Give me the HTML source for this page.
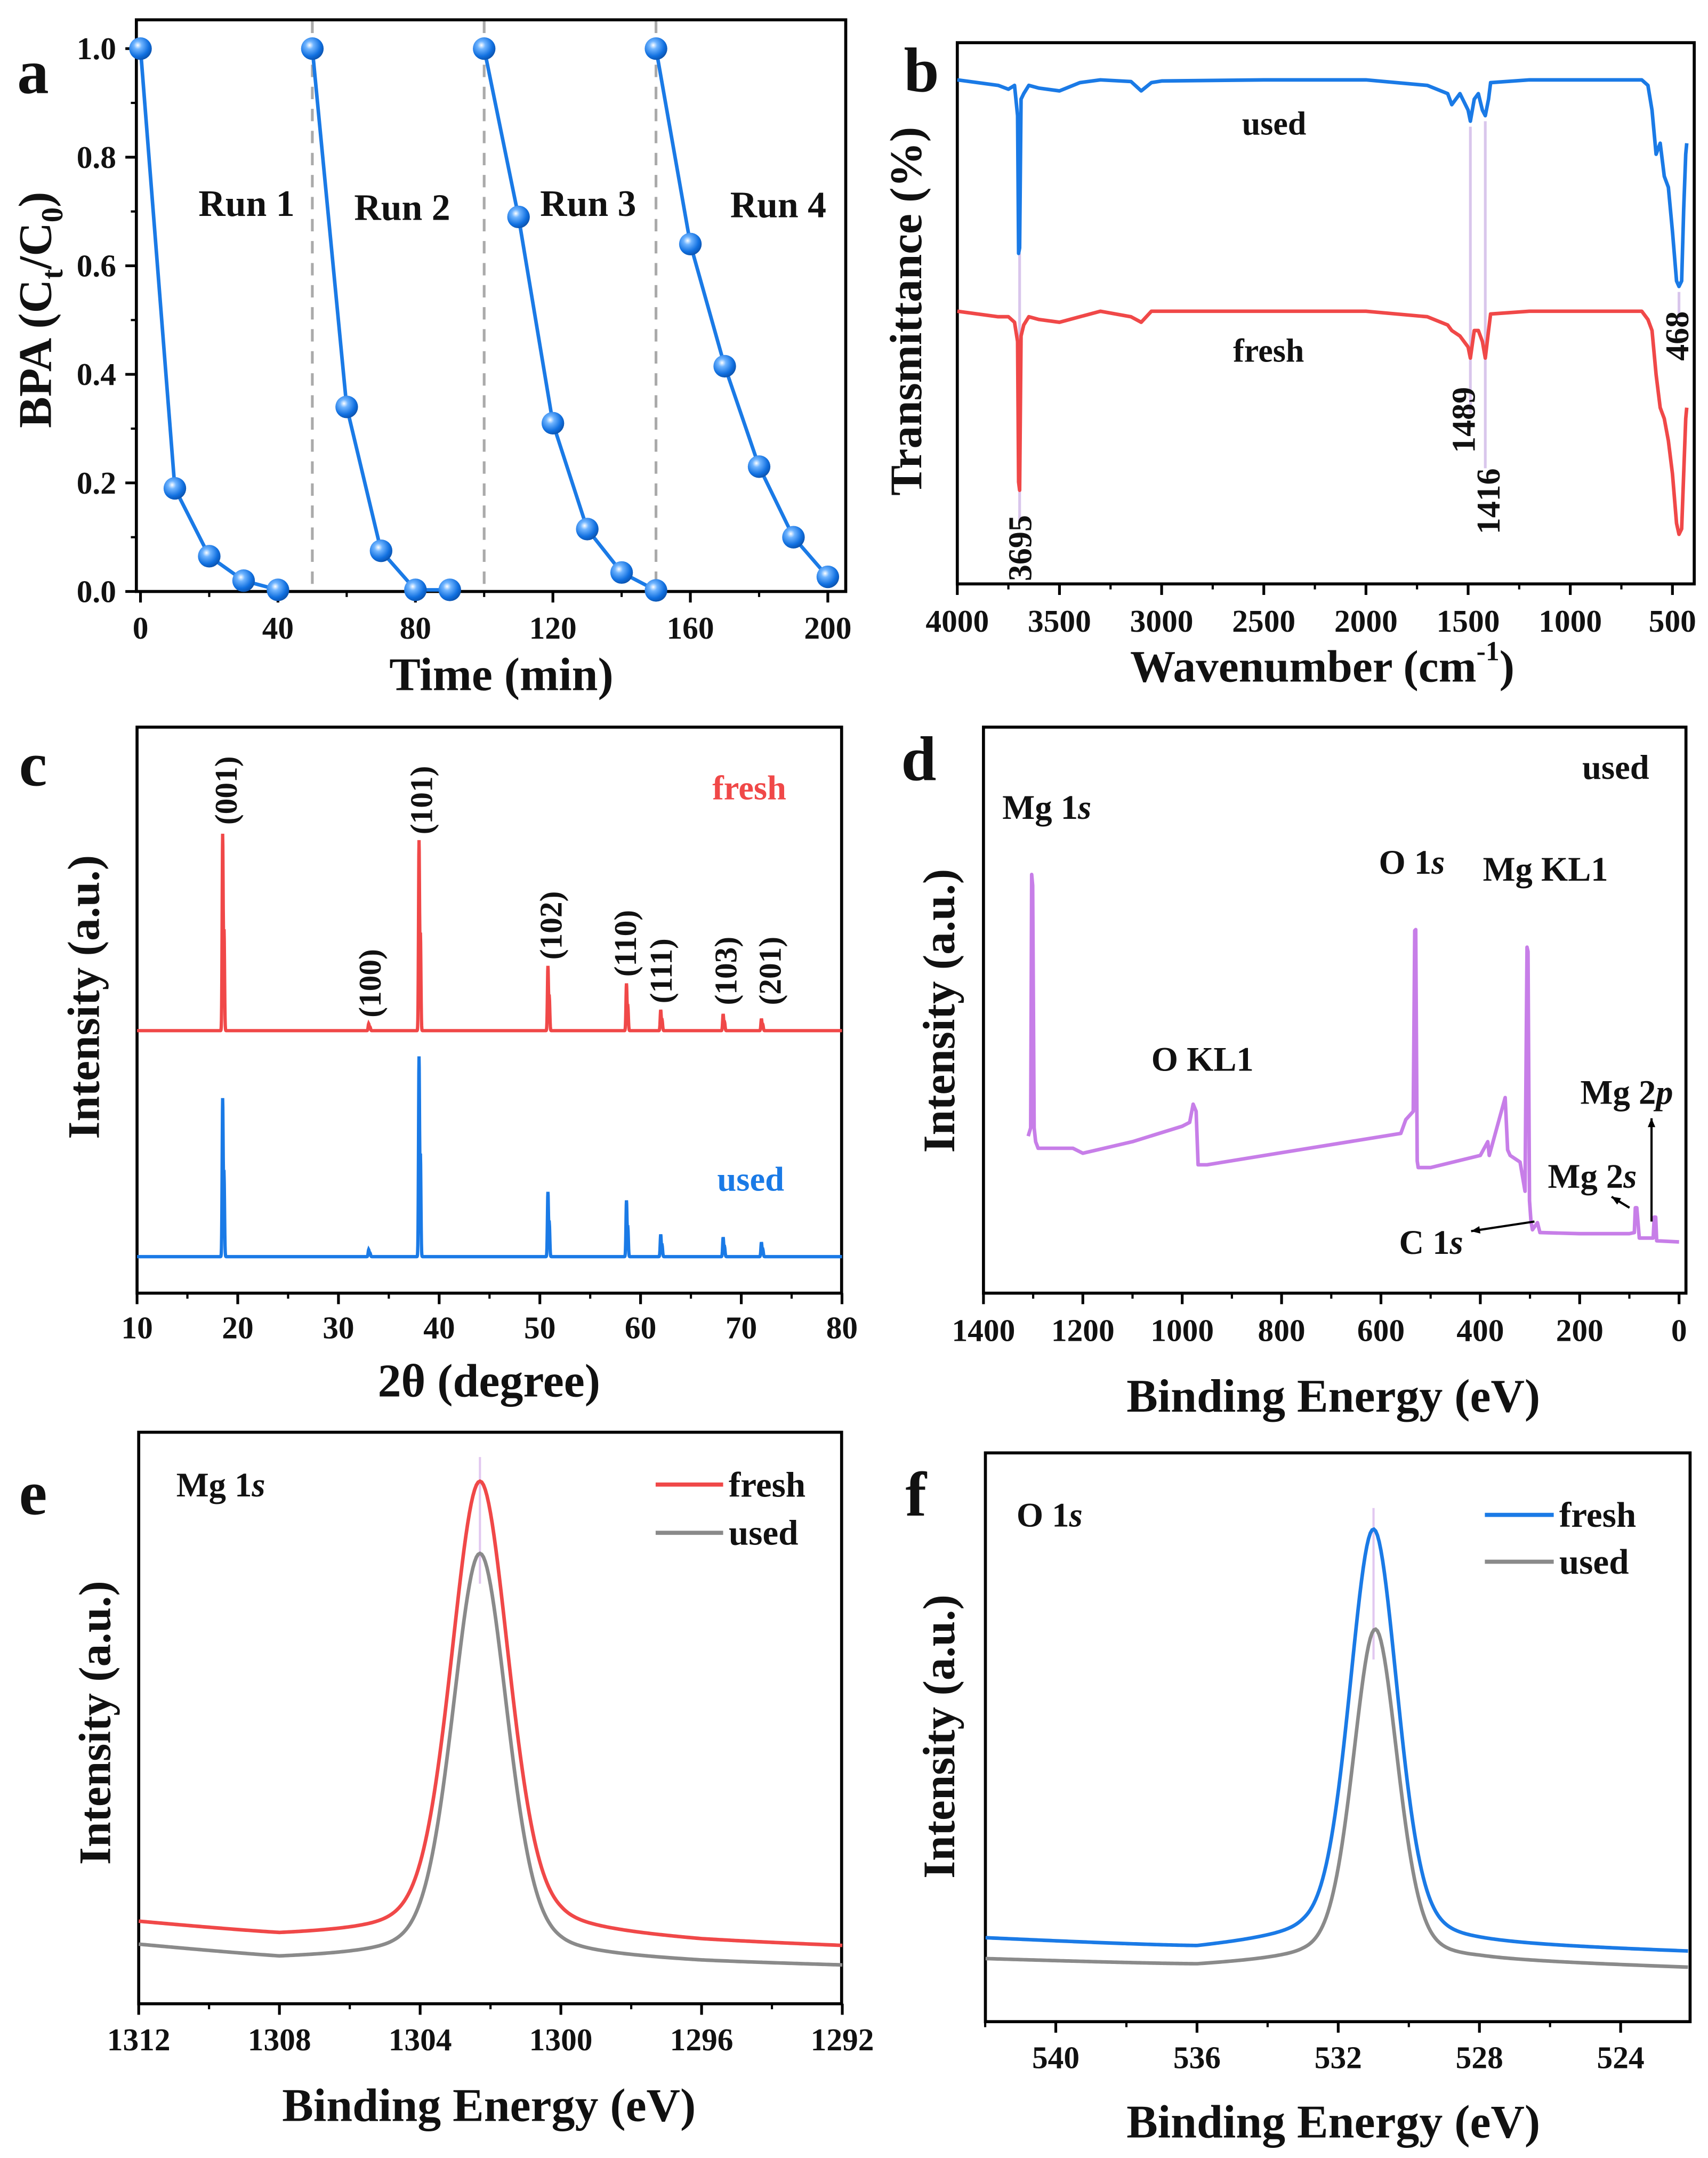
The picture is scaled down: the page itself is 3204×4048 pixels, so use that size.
<!DOCTYPE html>
<html><head><meta charset="utf-8"><style>
html,body{margin:0;padding:0;background:#fff}
svg{display:block}
text{font-family:"Liberation Serif",serif;font-weight:bold;fill:#111}
</style></head><body>
<svg id="fig" xmlns="http://www.w3.org/2000/svg" width="3204" height="4048" viewBox="0 0 1240 1567" preserveAspectRatio="none">
<defs>
<radialGradient id="ball" cx="0.38" cy="0.35" r="0.7">
<stop offset="0" stop-color="#ffffff"/><stop offset="0.25" stop-color="#6fb4ff"/><stop offset="0.7" stop-color="#1170e0"/><stop offset="1" stop-color="#0a4fa8"/>
</radialGradient>
</defs>
</svg>
<script>
// ---------- Panel a data ----------
const runTimes = [[0,10,20,30,40],[50,60,70,80,90],[100,110,120,130,140,150],[150,160,170,180,190,200]];
const runValues = [[1,0.19,0.065,0.02,0.003],[1,0.34,0.075,0.003,0.003],[1,0.69,0.31,0.115,0.035,0.002],[1,0.64,0.415,0.23,0.1,0.027]];
const runLabels = ['Run 1','Run 2','Run 3','Run 4'];
const runSeparators = [50,100,150];
const aXTicks = [0,40,80,120,160,200];
const aYTicks = [0,0.2,0.4,0.6,0.8,1.0];
// ---------- Panel b data (FTIR) ----------
const ftirWave = [4000,3800,3750,3720,3705,3700,3695,3688,3675,3650,3600,3500,3400,3300,3150,3100,3050,3000,2500,2000,1700,1600,1580,1540,1500,1489,1470,1450,1430,1416,1400,1390,1200,800,650,620,600,580,560,540,520,500,480,468,455,445,435,430];
const ftirUsed = [91.5,90.5,89.8,90.5,85,60,61,88,89,90.5,90,89.5,91,91.5,91.2,89.5,91,91.3,91.5,91.5,90.5,89,87,89,86,84,88,89,86,85,88,91,91.5,91.5,91.5,90.5,86,78,80,74,72,64,55,54,55,68,78,80];
const ftirFresh = [49.5,48.5,48.5,47.5,44,18.5,17,45,47,48.5,48,47.5,48.5,49.5,48.5,47.5,49.5,49.5,49.5,49.5,48.5,47,46,45,43,41,46,46,44,41,46,49,49.5,49.5,49.5,48,46,38,32,30,26,20,11,9,10,20,30,32];
const ftirMarks = [3695,1489,1416,468];
const bXTicks = [4000,3500,3000,2500,2000,1500,1000,500];
// ---------- Panel c data (XRD) ----------
const xrdPos = [18.5,33,38,50.8,58.6,62,68.2,72];
const xrdFresh = [1416,50,1370,466,340,150,120,86];
const xrdUsed = [1140,50,1440,466,405,160,140,104];
const xrdLabels = ['(001)','(100)','(101)','(102)','(110)','(111)','(103)','(201)'];
const cXTicks = [10,20,30,40,50,60,70,80];
// ---------- Panel d data (XPS survey) ----------
const surveyE = [1310,1305,1303,1301,1298,1295,1290,1220,1200,1100,1000,985,978,972,968,950,800,560,550,535,532,530,527,525,500,400,385,382,350,345,340,320,310,306,304,301,298,295,285,280,200,100,90,88,85,80,52,50,47,45,0];
const surveyI = [28.5,30,76,74,30,27.5,26.3,26.3,25.4,27.5,30.3,31,34.3,33,23.3,23.3,25.5,29,31.5,33,65.8,66,24,22.8,22.8,25,27.5,25,35.5,26,25,23.8,18.5,62.8,62,16.8,13,11.5,12.8,11,10.8,10.8,11,15.5,15.5,10,10,13.8,13.8,9.5,9.3];
const bDTicks = [1400,1200,1000,800,600,400,200,0];
// ---------- Panel e data (Mg 1s) ----------
const eBgE = [1312,1308,1304,1300,1296,1292];
const eFreshBg = [59,49,50,51,45,41.5];
const eUsedBg = [42.5,32.5,34,34,30,27.5];
const ePeakCenter = [1302.3,1302.3];
const ePeakHeight = [329,293];
const ePeakFwhm = [1.95,1.85];
const eXTicks = [1312,1308,1304,1300,1296,1292];
// ---------- Panel f data (O 1s) ----------
const fBgE = [542,536,533,528,522];
const fFreshBg = [60.5,53,59,55.5,50.5];
const fUsedBg = [45.5,40.5,44,44,39];
const fPeakCenter = [531.0,530.95];
const fPeakHeight = [300,241];
const fPeakFwhm = [1.62,1.5];
const fXTicks = [540,536,532,528,524];

const NS='http://www.w3.org/2000/svg';
const svg=document.getElementById('fig');
function mk(tag,attrs,parent){const e=document.createElementNS(NS,tag);for(const k in attrs)e.setAttribute(k,attrs[k]);(parent||svg).appendChild(e);return e;}
function txt(s,x,y,size,attrs,parent){const t=mk('text',Object.assign({x:x,y:y,'font-size':size,'text-anchor':'middle','dominant-baseline':'central'},attrs||{}),parent);t.textContent=s;return t;}
function g(name){const e=mk('g',{});return e;}
function frame(p,x0,y0,x1,y1,name){const r=mk('rect',{x:x0,y:y0,width:x1-x0,height:y1-y0,fill:'none',stroke:'#000','stroke-width':2.2},p);}
function xTicks(p,vals,sx,yb,labelY,minorStep,lo,hi,xmin,xmax){
  vals.forEach(v=>{const l=mk('line',{x1:sx(v),x2:sx(v),y1:yb,y2:yb+8,stroke:'#000','stroke-width':2},p);
    const t=txt(String(v),sx(v),labelY,23,{},p);});
  if(minorStep){for(let v=lo;v<=hi+1e-9;v+=minorStep){const X=sx(v);if(xmin!==undefined&&(X<xmin-0.5||X>xmax+0.5))continue;const l=mk('line',{x1:X,x2:X,y1:yb,y2:yb+4,stroke:'#000','stroke-width':1.6},p);}}
}
function letter(s,x,y){const t=txt(s,x,y,46);}
function vtitle(s,x,y,size,p,name){const t=txt(s,x,y,size||33,{transform:`rotate(-90 ${x} ${y})`},p);return t;}
function pathFrom(xs,ys){return xs.map((x,i)=>(i?'L':'M')+x.toFixed(2)+','+ys[i].toFixed(2)).join('');}
function interp(xs,ys,x){
  for(let i=0;i<xs.length-1;i++){const a=xs[i],b=xs[i+1];if((x<=a&&x>=b)||(x>=a&&x<=b)){const t=(x-a)/(b-a);return ys[i]+t*(ys[i+1]-ys[i]);}}
  return Math.abs(x-xs[0])<Math.abs(x-xs[xs.length-1])?ys[0]:ys[ys.length-1];}
function pv(x,c,h,w){const d=(x-c)/w;return h*(0.3/(1+4*d*d)+0.7*Math.exp(-4*Math.LN2*d*d));}

// ===== Panel a =====
(function(){
const p=g('panel-a-bpa-degradation');
const xA=t=>102+t*2.495, yA=v=>429.5-v*394.2;
runSeparators.forEach(s=>{const l=mk('line',{x1:xA(s),x2:xA(s),y1:15,y2:429,stroke:'#aaa','stroke-width':2,'stroke-dasharray':'9,7'},p);});
frame(p,99,14.4,614,429.5,'plot-frame-a');
xTicks(p,aXTicks,xA,429.5,456,20,0,200);
aYTicks.forEach(v=>{const l=mk('line',{x1:99,x2:91,y1:yA(v),y2:yA(v),stroke:'#000','stroke-width':2},p);
 const t=txt(v.toFixed(1),70,yA(v),23,{},p);});
for(let v=0.1;v<1;v+=0.2){const l=mk('line',{x1:99,x2:95,y1:yA(v),y2:yA(v),stroke:'#000','stroke-width':1.6},p);}
runTimes.forEach((ts,i)=>{
  const ln=mk('path',{d:pathFrom(ts.map(xA),runValues[i].map(yA)),fill:'none',stroke:'#1a7ae6','stroke-width':2.6},p);
  
  ts.forEach((t,j)=>{const c=mk('circle',{cx:xA(t),cy:yA(runValues[i][j]),r:8.2,fill:'url(#ball)'},p);});
});
const runPos=[[179,148],[292,151],[427,148],[565,149]];
runLabels.forEach((s,i)=>{const t=txt(s,runPos[i][0],runPos[i][1],27,{},p);});
const yt=vtitle('',26,225,34,p,'y-axis-title-a');
yt.innerHTML='BPA (C<tspan baseline-shift="sub" font-size="22">t</tspan>/C<tspan baseline-shift="sub" font-size="22">0</tspan>)';
const xt=txt('Time (min)',364,490,34,{},p);
letter('a',24,52);
})();

// ===== Panel b =====
(function(){
const p=g('panel-b-ftir');
const xB=w=>695+(4000-w)*0.14834, yB=T=>424-T*4;
const markBottom=[380,300,340,232];
ftirMarks.forEach((w,i)=>{const l=mk('line',{x1:xB(w),x2:xB(w),y1:yB(interp(ftirWave,ftirUsed,w))+4,y2:markBottom[i],stroke:'#d9c6ec','stroke-width':2},p);});
frame(p,695,31,1230,424,'plot-frame-b');
xTicks(p,bXTicks,xB,424,451,250,500,4000,695,1230);
const u=mk('path',{d:pathFrom(ftirWave.map(xB),ftirUsed.map(yB)),fill:'none',stroke:'#1a7ae6','stroke-width':2.6,'stroke-linejoin':'round'},p);
const f=mk('path',{d:pathFrom(ftirWave.map(xB),ftirFresh.map(yB)),fill:'none',stroke:'#f04848','stroke-width':2.6,'stroke-linejoin':'round'},p);
let t=txt('used',925,90,24,{},p);
t=txt('fresh',921,255,24,{},p);
const lp=[[741,398],[1063,305],[1081,364],[1218,244]];
ftirMarks.forEach((w,i)=>{vtitle(String(w),lp[i][0],lp[i][1],24,p,'peak-label-'+w);});
vtitle('Transmittance (%)',658,226,33,p,'y-axis-title-b');
const xt=txt('',960,484,33,{},p);xt.innerHTML='Wavenumber (cm<tspan baseline-shift="super" font-size="20">-1</tspan>)';
letter('b',669,51);
})();

// ===== Panel c =====
(function(){
const p=g('panel-c-xrd');
const xC=t=>99.5+(t-10)*7.311;
const baseF=748.4, baseU=912.5, sc=0.1;
frame(p,99.5,528,611,939,'plot-frame-c');
xTicks(p,cXTicks,xC,939,964,5,10,80);
function profile(hs,base){const xs=[],ys=[];for(let t=10;t<=80.001;t+=0.02){let v=0;xrdPos.forEach((c,i)=>{const d=t-c;v+=hs[i]*(Math.exp(-d*d/(2*0.05*0.05))+0.5*Math.exp(-(d-0.14)*(d-0.14)/(2*0.05*0.05)));});xs.push(xC(t));ys.push(base-v*sc);}return pathFrom(xs,ys);}
let e=mk('path',{d:profile(xrdFresh,baseF),fill:'none',stroke:'#f04848','stroke-width':2.4},p);
e=mk('path',{d:profile(xrdUsed,baseU),fill:'none',stroke:'#1a7ae6','stroke-width':2.4},p);
const lp=[[164,574],[268.5,714],[306,581],[400,672],[454,685],[480,705],[527,705],[559,705]];
xrdLabels.forEach((s,i)=>vtitle(s,lp[i][0],lp[i][1],23,p,'hkl-label'));
let t=txt('fresh',544,572,25,{style:'fill:#f04848'},p);
t=txt('used',545,856,25,{style:'fill:#1a7ae6'},p);
vtitle('Intensity (a.u.)',61,724,33,p,'y-axis-title-c');
t=txt('2θ (degree)',355,1003,34,{},p);
letter('c',24,555);
})();

// ===== Panel d =====
(function(){
const p=g('panel-d-xps-survey');
const xD=e=>714+(1400-e)*0.3607, yD=I=>939-I*4;
frame(p,714,528,1224,939,'plot-frame-d');
xTicks(p,bDTicks,xD,939,966,100,0,1400);
const s=mk('path',{d:pathFrom(surveyE.map(xD),surveyI.map(yD)),fill:'none',stroke:'#c77ee8','stroke-width':2.6,'stroke-linejoin':'round'},p);
const labs=[['used',1173,557],['O 1s',1025,626],['Mg KL1',1122,631],['O KL1',873,769],['Mg 1s',760,586],['Mg 2p',1181,793],['Mg 2s',1156,854],['C 1s',1039,902]];
labs.forEach(l=>{const t=txt('',l[1],l[2],25,{},p);
 if(/s$|p$/.test(l[0])&&l[0]!=='used'){t.innerHTML=l[0].slice(0,-1)+'<tspan font-style="italic">'+l[0].slice(-1)+'</tspan>';}else t.textContent=l[0];
 });
function arrow(x1,y1,x2,y2,name){const l=mk('line',{x1,y1,x2,y2,stroke:'#000','stroke-width':1.6},p);
 const a=Math.atan2(y2-y1,x2-x1),L=7;const pts=[[x2,y2],[x2-L*Math.cos(a-0.4),y2-L*Math.sin(a-0.4)],[x2-L*Math.cos(a+0.4),y2-L*Math.sin(a+0.4)]];
 const h=mk('polygon',{points:pts.map(q=>q.join(',')).join(' '),fill:'#000'},p);}
arrow(1114,887,1068,894,'c1s-arrow');
arrow(1183,877,1170,869,'mg2s-arrow');
arrow(1199,887,1199,812,'mg2p-arrow');
vtitle('Intensity (a.u.)',682,734,33,p,'y-axis-title-d');
const t=txt('Binding Energy (eV)',968,1014,34,{},p);
letter('d',667,551);
})();

// ===== Panels e & f =====
function xpsPanel(o){
const p=g(o.name);
frame(p,o.x0,o.y0,o.x1,o.y1,'plot-frame-'+o.id);
xTicks(p,o.ticks,o.sx,o.y1,o.labelY,2,Math.min(...o.ticks)-2,Math.max(...o.ticks)+2,o.x0,o.x1);
const pk=mk('line',{x1:o.sx(o.centers[0]),x2:o.sx(o.centers[0]),y1:o.markY[0],y2:o.markY[1],stroke:'#e2c8f0','stroke-width':1.6},p);
[o.used,o.fresh].forEach((ser)=>{const idx=ser===o.fresh?0:1;const xs=[],ys=[];
 for(let e=o.eHi;e>=o.eLo-1e-9;e-=0.05){const I=interp(o.bgE,ser.bg,e)+pv(e,o.centers[idx],o.heights[idx],o.fwhm[idx]);xs.push(o.sx(e));ys.push(o.y1-I);}
 const pa=mk('path',{d:pathFrom(xs,ys),fill:'none',stroke:ser.color,'stroke-width':2.6},p);});
[[o.fresh,o.legY[0]],[o.used,o.legY[1]]].forEach(([ser,y])=>{const l=mk('line',{x1:o.legX[0],x2:o.legX[1],y1:y,y2:y,stroke:ser.color,'stroke-width':3},p);
 const t=txt(ser.label,o.legX[1]+4,y,26,{'text-anchor':'start'},p);});
const tl=txt('',o.core[1],o.core[2],25,{'text-anchor':'start'},p);tl.innerHTML=o.core[0]+' 1<tspan font-style="italic">s</tspan>';
vtitle('Intensity (a.u.)',o.yt[0],o.yt[1],33,p,'y-axis-title-'+o.id);
const t=txt('Binding Energy (eV)',o.xt[0],o.xt[1],34,{},p);
letter(o.id,o.let[0],o.let[1]);
}
xpsPanel({name:'panel-e-mg1s',id:'e',x0:100.7,y0:1040,x1:611,y1:1455,sx:e=>100.7+(1312-e)*25.54,ticks:eXTicks,labelY:1481,
 eHi:1312,eLo:1292,bgE:eBgE,centers:ePeakCenter,heights:ePeakHeight,fwhm:ePeakFwhm,
 fresh:{bg:eFreshBg,color:'#f04848',label:'fresh'},used:{bg:eUsedBg,color:'#8a8a8a',label:'used'},
 legX:[476,525],legY:[1078,1113],core:['Mg',128,1078],yt:[69,1251],xt:[355,1529],let:[24,1084],markY:[1058,1150]});
xpsPanel({name:'panel-f-o1s',id:'f',x0:715.4,y0:1055,x1:1227,y1:1468,sx:e=>766.5+(540-e)*25.63,ticks:fXTicks,labelY:1494,
 eHi:541.99,eLo:522.05,bgE:fBgE,centers:fPeakCenter,heights:fPeakHeight,fwhm:fPeakFwhm,
 fresh:{bg:fFreshBg,color:'#1a7ae6',label:'fresh'},used:{bg:fUsedBg,color:'#8a8a8a',label:'used'},
 legX:[1078,1128],legY:[1100,1134],core:['O',738,1100],yt:[682,1261],xt:[968,1541],let:[665,1085],markY:[1095,1205]});
</script>
</body></html>
